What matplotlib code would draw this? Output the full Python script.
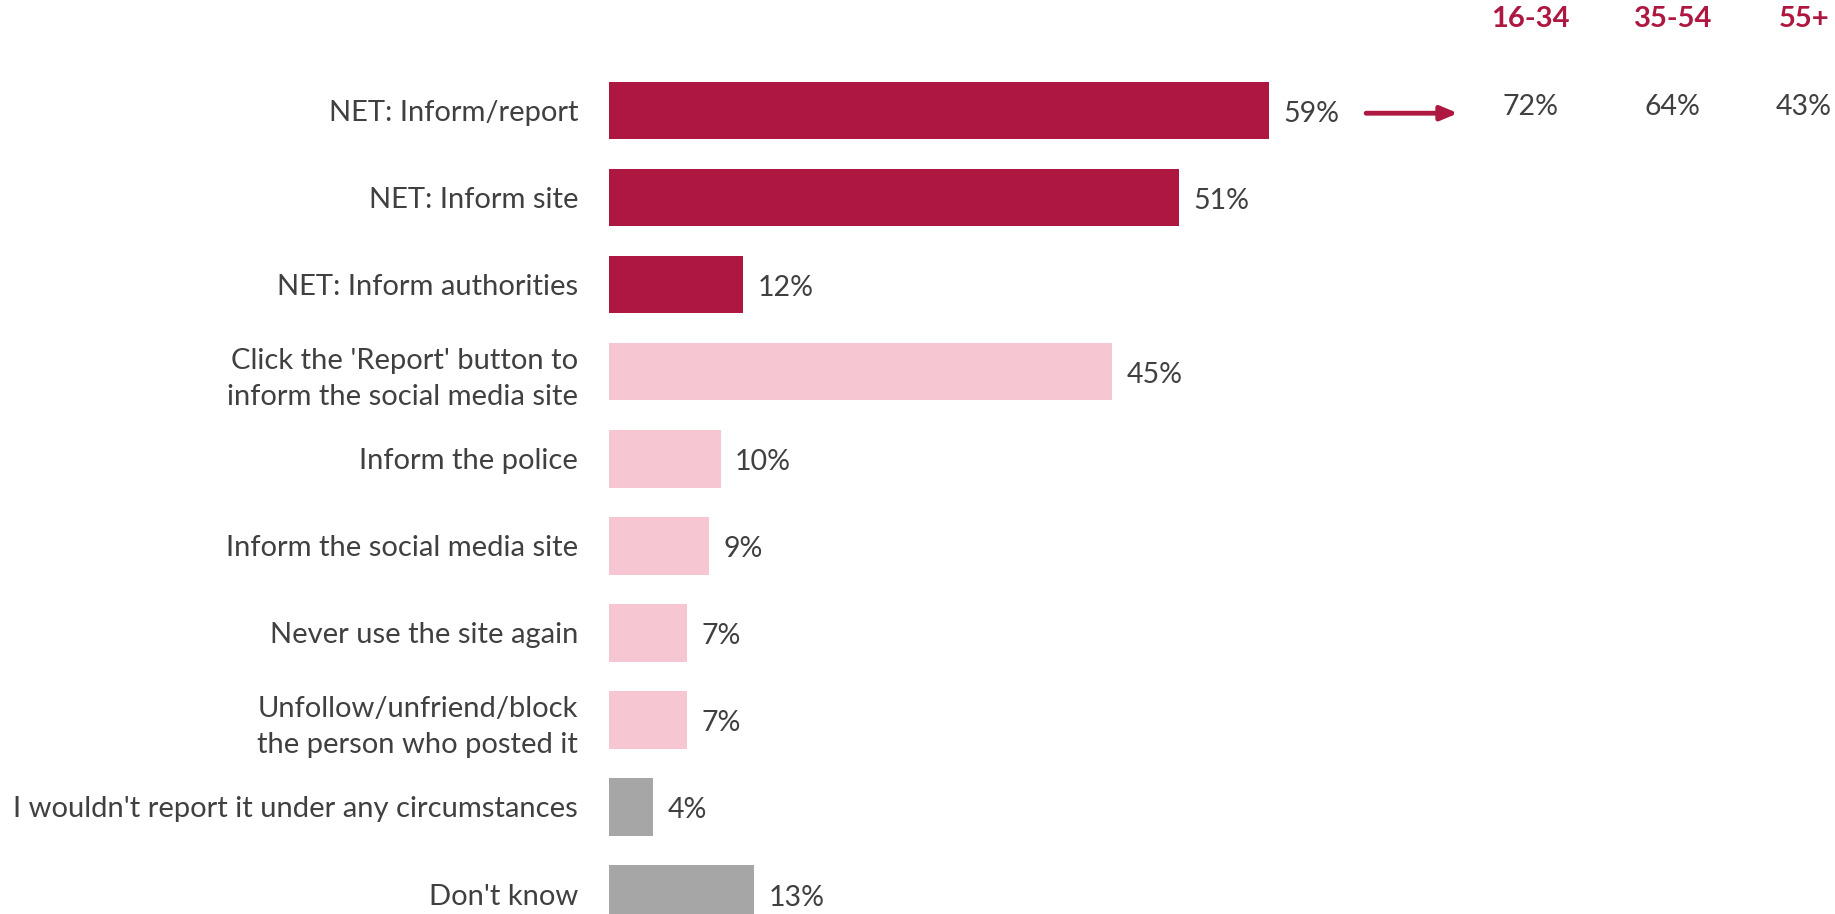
import matplotlib.pyplot as plt

plt.rcParams['font.family'] = ['Lato', 'DejaVu Sans']

labels = ["NET: Inform/report", "NET: Inform site", "NET: Inform authorities",
          "Click the 'Report' button to\ninform the social media site",
          "Inform the police", "Inform the social media site",
          "Never use the site again",
          "Unfollow/unfriend/block\nthe person who posted it",
          "I wouldn't report it under any circumstances", "Don't know"]
values = [59, 51, 12, 45, 10, 9, 7, 7, 4, 13]
groups = ["net", "net", "net", "sub", "sub", "sub", "sub", "sub", "other", "other"]

age_bands = ["16-34", "35-54", "55+"]
age_values = [72, 64, 43]

RED = "#AE1740"
PINK = "#F7C6D3"
GREY = "#A6A6A6"
TEXT = "#404040"
colours = {"net": RED, "sub": PINK, "other": GREY}

fig = plt.figure(figsize=(18.35, 9.14), dpi=100)
ax = fig.add_axes([608.6 / 1835, 0, 1 - 608.6 / 1835, 1])

ypos = list(range(len(values)))
ax.barh(ypos, values, height=0.66, color=[colours[g] for g in groups])

ax.set_xlim(0, (1835 - 608.6) / 11.19)
ax.set_ylim((914 - 110.6) / 87.05, -110.6 / 87.05)

ax.set_yticks(ypos)
ax.set_yticklabels(labels, fontsize=21, color=TEXT, linespacing=1.45)
ax.tick_params(axis='y', length=0, pad=22)
ax.set_xticks([])
for s in ax.spines.values():
    s.set_visible(False)

for y, v in zip(ypos, values):
    ax.text(v + 1.3, y + 0.04, f"{v}%", va='center', ha='left',
            fontsize=20.5, color=TEXT)

# age breakdown for the top NET row
xs = [82.4, 95.1, 106.8]
for x, band, v in zip(xs, age_bands, age_values):
    ax.text(x, -1.056, band, ha='center', va='center', fontsize=21,
            fontweight='bold', color=RED)
    ax.text(x, -0.04, f"{v}%", ha='center', va='center', fontsize=20.5,
            color=TEXT)

ax.annotate("", xy=(75.9, 0.03), xytext=(67.7, 0.03),
            arrowprops=dict(arrowstyle='-|>,head_length=1.0,head_width=0.42',
                            color=RED, lw=3.5, shrinkA=0, shrinkB=0))

fig.savefig("out.png", dpi=100)
